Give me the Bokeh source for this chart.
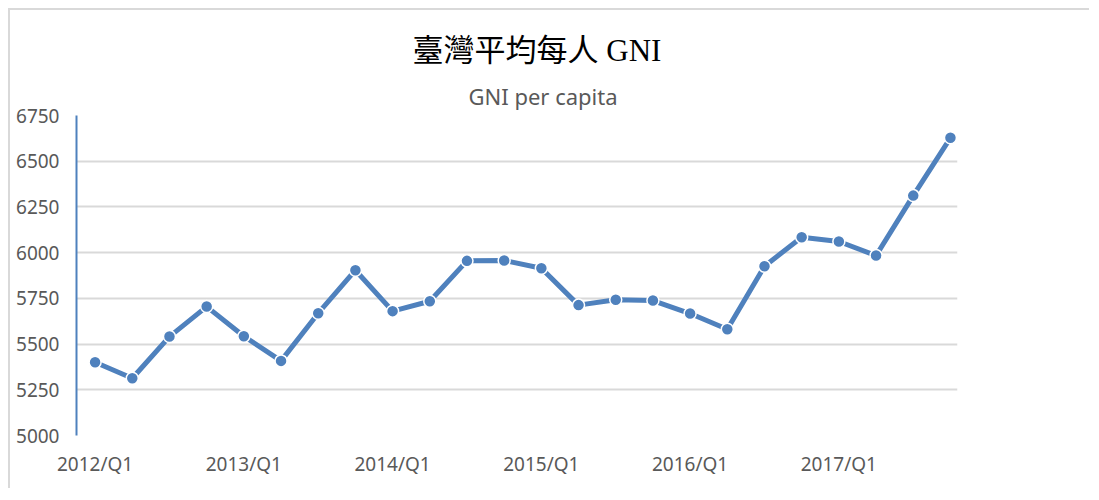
from bokeh.plotting import figure
from bokeh.models import Title, FixedTicker
from bokeh.embed import file_html
from bokeh.resources import INLINE

quarters = [f"{y}/Q{q}" for y in range(2012, 2018) for q in range(1, 5)]
gni = [5401, 5313, 5541, 5705, 5543, 5408, 5669, 5904,
       5680, 5734, 5955, 5957, 5915, 5713, 5742, 5738,
       5667, 5581, 5926, 6084, 6061, 5984, 6312, 6628]
y_ticks = [5000, 5250, 5500, 5750, 6000, 6250, 6500, 6750]
x_tick_idx = [0, 4, 8, 12, 16, 20]

idx = list(range(len(quarters)))
blue = "#4f81bd"
gray = "#595959"

p = figure(width=1081, height=480, output_backend="svg", toolbar_location=None,
           x_range=(-0.5, 23.19), y_range=(5000, 6750),
           min_border_left=66, min_border_right=134, min_border_bottom=55,
           min_border_top=105)
p.title = None
p.styles = {"border-top": "2px solid #d9d9d9", "border-left": "2px solid #d9d9d9",
            "border-right": "0px none", "border-bottom": "0px none",
            "outline": "none", "box-shadow": "none",
            "margin-left": "8px", "margin-top": "8px"}
p.outline_line_color = None
p.background_fill_color = "white"
p.border_fill_color = "white"

p.line(idx, gni, line_color=blue, line_width=5)
p.scatter(idx, gni, size=12, fill_color=blue, line_color="white", line_width=1.5)

p.xgrid.grid_line_color = None
p.ygrid.grid_line_color = "#d9d9d9"
p.ygrid.grid_line_width = 2
p.ygrid.ticker = FixedTicker(ticks=y_ticks)

p.yaxis.ticker = FixedTicker(ticks=y_ticks)
p.yaxis.axis_line_color = blue
p.yaxis.axis_line_width = 2
p.yaxis.major_tick_line_color = None
p.yaxis.minor_tick_line_color = None
p.yaxis.major_tick_out = 0
p.yaxis.major_label_standoff = 17
p.yaxis.major_label_text_font = "Noto Sans"
p.yaxis.major_label_text_font_size = "19px"
p.yaxis.major_label_text_color = gray

p.xaxis.ticker = FixedTicker(ticks=x_tick_idx)
p.xaxis.major_label_overrides = {i: quarters[i] for i in x_tick_idx}
p.xaxis.axis_line_color = None
p.xaxis.major_tick_line_color = None
p.xaxis.minor_tick_line_color = None
p.xaxis.major_tick_out = 0
p.xaxis.major_label_standoff = 15
p.xaxis.major_label_text_font = "Noto Sans"
p.xaxis.major_label_text_font_size = "19px"
p.xaxis.major_label_text_color = gray

sub = Title(text="GNI per capita", align="left", offset=392,
            text_font="Noto Sans", text_font_size="22px", text_font_style="normal",
            text_color=gray, standoff=9)
main = Title(text="臺灣平均每人 GNI", align="left", offset=336,
             text_font="Liberation Serif, Noto Sans CJK TC", text_font_size="31px",
             text_font_style="normal", text_color="black", standoff=14)
p.add_layout(sub, "above")
p.add_layout(main, "above")

open("out.html", "w").write(file_html(p, INLINE))
